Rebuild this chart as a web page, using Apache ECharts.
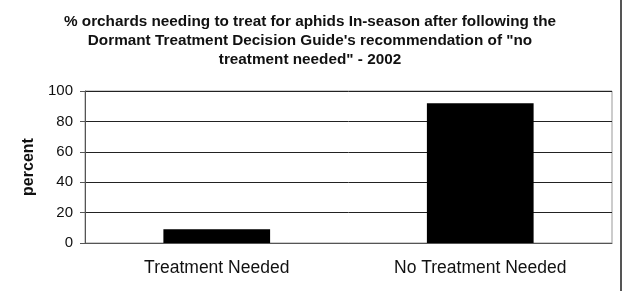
<!DOCTYPE html>
<html>
<head>
<meta charset="utf-8">
<script src="https://cdn.jsdelivr.net/npm/echarts@6/dist/echarts.min.js"></script>
<style>
  html, body { margin: 0; padding: 0; background: #fff; }
  #chart-container { width: 625px; height: 291px; }
</style>
</head>
<body>
<div id="chart-container"></div>
<script>
var categories = ['Treatment Needed', 'No Treatment Needed'];
var percentValues = [9, 92];
var yTicks = { min: 0, max: 100, interval: 20 };

var dom = document.getElementById('chart-container');
var myChart = echarts.init(dom, null, { renderer: 'canvas' });

var option = {
  backgroundColor: '#fff',
  animation: false,
  title: {
    text: '% orchards needing to treat for aphids In-season after following the\nDormant Treatment Decision Guide\'s recommendation of "no\ntreatment needed" - 2002',
    left: 305,
    top: 7,
    textAlign: 'center',
    textStyle: {
      fontFamily: 'Liberation Sans, Arial',
      fontSize: 15.3,
      fontWeight: 'bold',
      color: '#111',
      lineHeight: 19
    }
  },
  grid: {
    left: 85,
    right: 13,
    top: 91,
    bottom: 48,
    show: true,
    borderColor: '#999',
    borderWidth: 1
  },
  xAxis: {
    type: 'category',
    data: categories,
    axisLine: { lineStyle: { color: '#555', width: 1 } },
    axisTick: { show: false },
    axisLabel: {
      fontFamily: 'Liberation Sans, Arial',
      fontSize: 17.5,
      color: '#111',
      margin: 16
    }
  },
  yAxis: {
    type: 'value',
    min: yTicks.min,
    max: yTicks.max,
    interval: yTicks.interval,
    name: 'percent',
    nameLocation: 'middle',
    nameGap: 45,
    nameTextStyle: {
      fontFamily: 'Liberation Sans, Arial',
      fontSize: 16,
      fontWeight: 'bold',
      color: '#111'
    },
    axisLine: { show: true, lineStyle: { color: '#555', width: 1 } },
    axisTick: { show: true, length: 5, lineStyle: { color: '#555' } },
    axisLabel: {
      fontFamily: 'Liberation Sans, Arial',
      fontSize: 15,
      color: '#111',
      margin: 12
    },
    splitLine: { lineStyle: { color: '#222', width: 1 } }
  },
  series: [
    {
      type: 'bar',
      data: percentValues,
      barWidth: '40.5%',
      itemStyle: { color: '#000' }
    }
  ],
  graphic: [
    {
      type: 'line',
      shape: { x1: 621, y1: 0, x2: 621, y2: 291 },
      style: { stroke: '#555', lineWidth: 2 }
    }
  ]
};

myChart.setOption(option);
window.addEventListener('resize', myChart.resize);
</script>
</body>
</html>
